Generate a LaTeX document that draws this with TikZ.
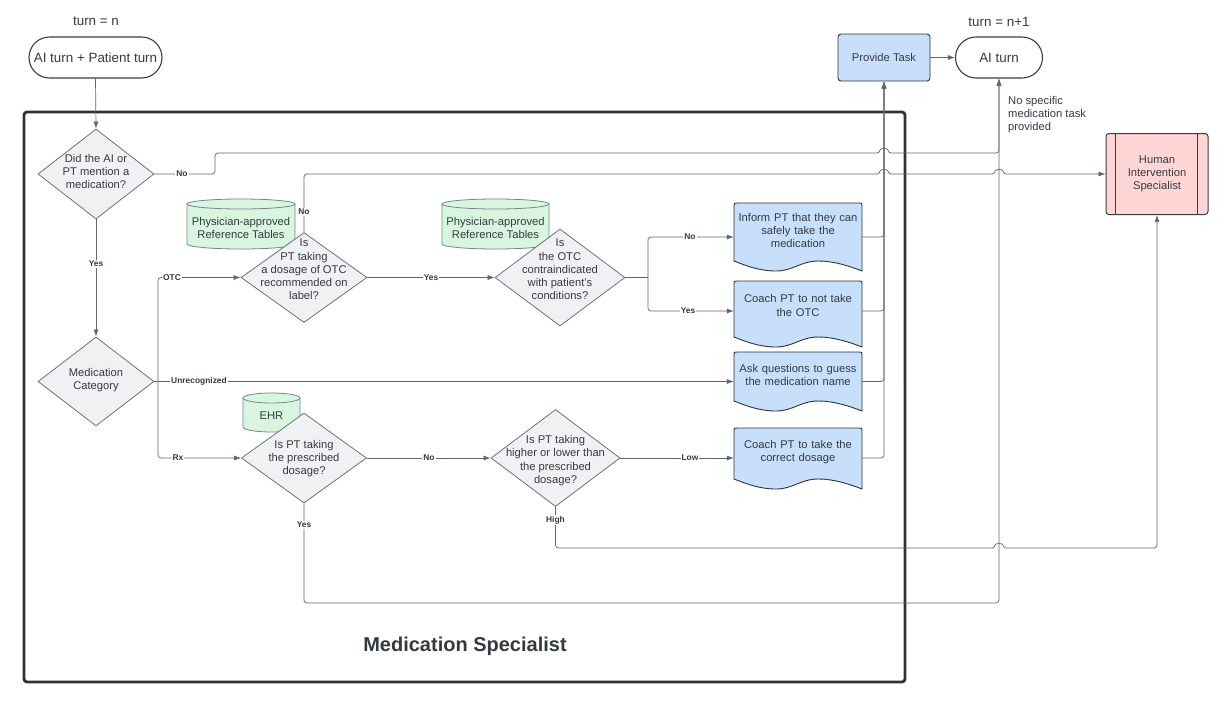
\documentclass[tikz,border=0pt]{standalone}
\usepackage{fontspec}
\setmainfont{Liberation Sans}
\usetikzlibrary{shapes.geometric,arrows.meta,calc}
\definecolor{ink}{HTML}{353A42}
\definecolor{lineC}{HTML}{5F6670}
\definecolor{frameC}{HTML}{2E3138}
\definecolor{docfill}{HTML}{C7DFFA}
\definecolor{docline}{HTML}{2F343C}
\definecolor{diafill}{HTML}{F0F1F3}
\definecolor{dialine}{HTML}{6C727B}
\definecolor{cylfill}{HTML}{D8F6DF}
\definecolor{cylline}{HTML}{7C838A}
\definecolor{hifill}{HTML}{FFD5D5}
\definecolor{hiline}{HTML}{3A3D44}
\newcommand\docshape[4]{%
 \draw[draw=docline, fill=docfill, line width=0.9pt] ({#1},{#4-10}) -- ({#1},{#2+3}) .. controls ({#1},{#2}) .. ({#1+3},{#2}) -- ({#3-3},{#2}) .. controls ({#3},{#2}) .. ({#3},{#2+3}) -- ({#3},{#4}) .. controls ({#1+0.9*(#3-#1)},{#4-5}) and ({#1+0.78*(#3-#1)},{#4-10}) .. ({#1+0.66*(#3-#1)},{#4-10}) .. controls ({#1+0.52*(#3-#1)},{#4-10}) and ({#1+0.46*(#3-#1)},{#4}) .. ({#1+0.33*(#3-#1)},{#4}) .. controls ({#1+0.2*(#3-#1)},{#4}) and ({#1+0.1*(#3-#1)},{#4-5}) .. ({#1},{#4-10}) -- cycle;}
\newcommand\cylshape[4]{% L T R B
 \fill[cylfill] ({#1},{#2+5}) -- ({#1},{#4-5}) .. controls ({#1},{#4-2.25}) and ({(#1+#3)/2-0.55*(#3-#1)/2},{#4}) .. ({(#1+#3)/2},{#4}) .. controls ({(#1+#3)/2+0.55*(#3-#1)/2},{#4}) and ({#3},{#4-2.25}) .. ({#3},{#4-5}) -- ({#3},{#2+5}) -- cycle;
 \draw[cylline, line width=0.8pt] ({#1},{#2+5}) -- ({#1},{#4-5}) .. controls ({#1},{#4-2.25}) and ({(#1+#3)/2-0.55*(#3-#1)/2},{#4}) .. ({(#1+#3)/2},{#4}) .. controls ({(#1+#3)/2+0.55*(#3-#1)/2},{#4}) and ({#3},{#4-2.25}) .. ({#3},{#4-5}) -- ({#3},{#2+5});
 \draw[cylline, fill=cylfill, line width=0.8pt] ({(#1+#3)/2},{#2+5}) ellipse [x radius={(#3-#1)/2}, y radius=5];}
\begin{document}
\begin{tikzpicture}[x=1pt,y=-1pt,
 every node/.style={text=ink, font=\fontsize{11.2}{13.3}\selectfont},
 dia/.style={diamond, draw=dialine, fill=diafill, line width=0.8pt, inner sep=0pt},
 dtext/.style={align=center, inner sep=0pt},
 doctext/.style={align=center, inner ysep=0pt, inner xsep=2pt, text width=124pt},
 term/.style={draw=hiline, fill=white, line width=1.1pt, rounded corners=20.5pt, minimum height=41pt, font=\fontsize{13.4}{16}\selectfont},
 conn/.style={draw=lineC, line width=0.7pt, rounded corners=3pt},
 arr/.style={-{Latex[length=7pt,width=5pt]}},
 lbl/.style={fill=white, inner sep=1pt, font=\bfseries\fontsize{8.4}{10}\selectfont}]
\fill[white] (0,0) rectangle (1226,710);
\useasboundingbox (0,0) rectangle (1226,710);

% frame
\node[draw=frameC, line width=2.8pt, rounded corners=3pt, minimum width=881pt, minimum height=570pt, inner sep=0pt] (frame) at (464.5,397) {};
\node (title) at (465,646) {\bfseries\fontsize{20}{24}\selectfont Medication Specialist};

% headers and terminals
\node (tn) at (96,21) {\fontsize{13.4}{16}\selectfont turn = n};
\node (tn1) at (999,22) {\fontsize{13.4}{16}\selectfont turn = n+1};
\node[term, minimum width=133pt] (start) at (95.5,57.5) {AI turn + Patient turn};
\node[term, minimum width=87pt] (at) at (999,57.5) {AI turn};
\node[draw=docline, fill=docfill, line width=0.9pt, rounded corners=3pt, minimum width=92pt, minimum height=47pt] (pt) at (884,57.5) {Provide Task};
\node[anchor=north west, align=left, inner sep=0pt] (nst) at (1008,96) {No specific\\medication task\\provided};

% human intervention
\node[draw=hiline, fill=hifill, line width=1pt, rounded corners=3pt, minimum width=102pt, minimum height=81pt, align=center] (hi) at (1157,174) {Human\\Intervention\\Specialist};
\draw[hiline, line width=1pt] ([xshift=10pt]hi.north west) -- ([xshift=10pt]hi.south west);
\draw[hiline, line width=1pt] ([xshift=-11pt]hi.north east) -- ([xshift=-11pt]hi.south east);

% cylinders
\cylshape{187}{199}{295}{249}
\node[dtext] (c1) at (241,228) {Physician-approved\\Reference Tables};
\cylshape{442}{199}{549}{249}
\node[dtext] (c2) at (495.5,228) {Physician-approved\\Reference Tables};
\cylshape{243}{393}{300}{432}
\node[dtext] (c3) at (271.5,415.5) {EHR};

% diamonds
\node[dia, minimum width=116pt, minimum height=90pt] (q1) at (96,174) {};
\node[dtext] (q1t) at (96,171.5) {Did the AI or\\PT mention a\\medication?};
\node[dia, minimum width=126pt, minimum height=90pt] (q2) at (304,277.5) {};
\node[dtext] (q2t) at (304,269.5) {Is\\PT taking\\a dosage of OTC\\recommended on\\label?};
\node[dia, minimum width=130pt, minimum height=97pt] (q3) at (560,277.5) {};
\node[dtext] (q3t) at (560,269.5) {Is\\the OTC\\contraindicated\\with patient's\\conditions?};
\node[dia, minimum width=116pt, minimum height=89pt] (mc) at (96,381.5) {};
\node[dtext] (mct) at (96,380) {Medication\\Category};
\node[dia, minimum width=125pt, minimum height=90pt] (q4) at (304,458) {};
\node[dtext] (q4t) at (304,458.5) {Is PT taking\\the prescribed\\dosage?};
\node[dia, minimum width=129pt, minimum height=97pt] (q5) at (555.5,458) {};
\node[dtext] (q5t) at (555.5,460.5) {Is PT taking\\higher or lower than\\the prescribed\\dosage?};

% documents
\docshape{734}{203}{862}{271}
\node[doctext] (d1) at (798,230.5) {Inform PT that they can\\safely take the\\medication};
\docshape{734}{281}{862}{347}
\node[doctext] (d2) at (798,305.5) {Coach PT to not take\\the OTC};
\docshape{734}{352}{862}{411}
\node[doctext] (d3) at (798,375) {Ask questions to guess\\the medication name};
\docshape{734}{428}{862}{489}
\node[doctext] (d4) at (798,452) {Coach PT to take the\\correct dosage};

% connectors
\coordinate (mcj) at (158,381.5);
\coordinate (q3j) at (648,277.5);
\draw[conn,arr] (start.south) -- (q1.north);
\draw[conn,arr] (q1.south) -- (mc.north);
\draw[conn,arr] (q1.east) -- (215,174) -- (215,153) -- (880,153) .. controls (880,148) and (888,148) .. (888,153) -- (999,153) -- (at.south);
\draw[conn,arr] (q2.north) -- (304,174) -- (880,174) .. controls (880,169) and (888,169) .. (888,174) -- (995,174) .. controls (995,169) and (1003,169) .. (1003,174) -- (hi.west);
\draw[conn] (mc.east) -- (mcj);
\draw[conn,arr] (mcj) |- (q2.west);
\draw[conn,arr] (mcj) |- (q4.west);
\draw[conn,arr] (mc.east) -- ([yshift=-6.5pt]d3.west);
\draw[conn,arr] (q2.east) -- (q3.west);
\draw[conn] (q3.east) -- (q3j);
\draw[conn,arr] (q3j) |- ([yshift=-6.5pt]d1.west);
\draw[conn,arr] (q3j) |- ([yshift=-5.5pt]d2.west);
\draw[conn,arr] ([yshift=-6.5pt]d1.east) -| (pt.south);
\draw[conn,arr] ([yshift=-5.5pt]d2.east) -| (pt.south);
\draw[conn,arr] ([yshift=-6.5pt]d3.east) -| (pt.south);
\draw[conn,arr] ([yshift=-6pt]d4.east) -| (pt.south);
\draw[conn,arr] (pt.east) -- (at.west);
\draw[conn,arr] (q4.east) -- (q5.west);
\draw[conn,arr] (q5.east) -- ([yshift=-6pt]d4.west);
\draw[conn,arr] (q5.south) -- (555.5,548) -- (995,548) .. controls (995,543) and (1003,543) .. (1003,548) -- (1157,548) -- (hi.south);
\draw[conn,arr] (q4.south) -- (304,603) -- (999,603) -- (at.south);

% labels
\node[lbl] (l1) at (182,174) {No};
\node[lbl] (l2) at (96,264) {Yes};
\node[lbl] (l3) at (304,212) {No};
\node[lbl] (l4) at (172,277.5) {OTC};
\node[lbl] (l5) at (199,381.5) {Unrecognized};
\node[lbl] (l6) at (178,458) {Rx};
\node[lbl] (l7) at (431,277.5) {Yes};
\node[lbl] (l8) at (690,237) {No};
\node[lbl] (l9) at (688,311) {Yes};
\node[lbl] (l10) at (429,458) {No};
\node[lbl] (l11) at (690,458) {Low};
\node[lbl] (l12) at (555.5,520) {High};
\node[lbl] (l13) at (304,525) {Yes};
\end{tikzpicture}
\end{document}
